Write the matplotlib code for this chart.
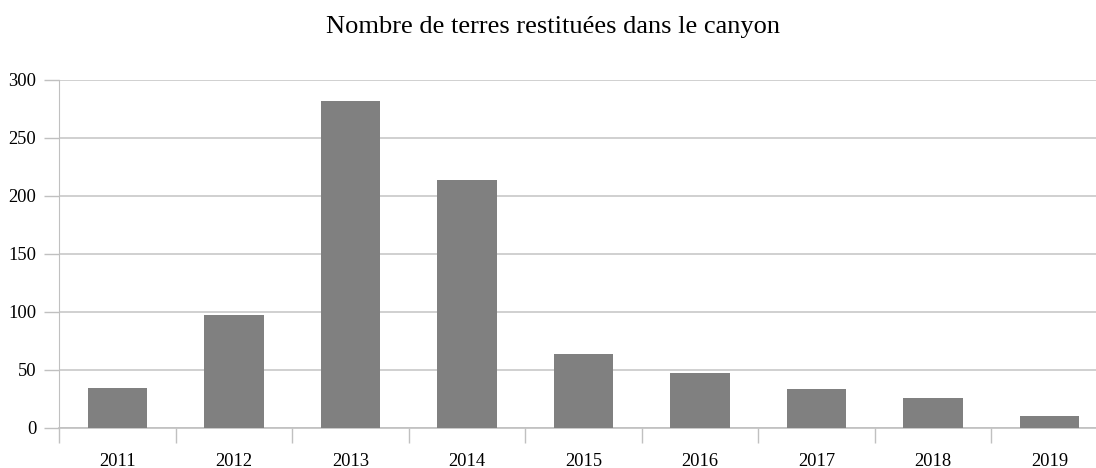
import matplotlib
matplotlib.use("Agg")
import matplotlib.pyplot as plt
import numpy as np

# Restitutions par année
years = ["2011", "2012", "2013", "2014", "2015", "2016", "2017", "2018", "2019"]
counts = [34, 97, 282, 214, 64, 47, 33, 26, 10]
y_ticks = [0, 50, 100, 150, 200, 250, 300]

plt.rcParams["font.family"] = ["Liberation Serif", "DejaVu Serif"]

fig = plt.figure(figsize=(10.96, 4.68), dpi=100)
ax = fig.add_axes([0.0541, 0.0861, 0.9567, 0.7430])

x = np.arange(len(years))
ax.bar(x, counts, width=0.51, color="#808080", zorder=3)

ax.set_xlim(-0.5, len(years) - 0.5)
ax.set_ylim(0, 300)
ax.set_yticks(y_ticks)
ax.set_yticklabels([str(v) for v in y_ticks], fontsize=13.3)

# categories labelled at their centres, ticks drawn at the boundaries
ax.set_xticks(x)
ax.set_xticklabels(years, fontsize=13.3)
ax.tick_params(axis="x", which="major", length=0, pad=18)
ax.set_xticks(np.arange(len(years) + 1) - 0.5, minor=True)
ax.tick_params(axis="x", which="minor", length=11, width=1, color="#c0c0c0")
ax.tick_params(axis="y", length=11, width=1, color="#c0c0c0", pad=5.5)

ax.grid(axis="y", color="#c8c8c8", linewidth=1.2, zorder=0)
for side in ["top", "right"]:
    ax.spines[side].set_visible(False)
ax.spines["left"].set_color("#c0c0c0")
ax.spines["bottom"].set_color("#c0c0c0")
ax.spines["bottom"].set_linewidth(1.2)

fig.text(0.5046, 0.9295, "Nombre de terres restituées dans le canyon",
         ha="center", va="baseline", fontsize=19)

fig.savefig("out.png", dpi=100)
